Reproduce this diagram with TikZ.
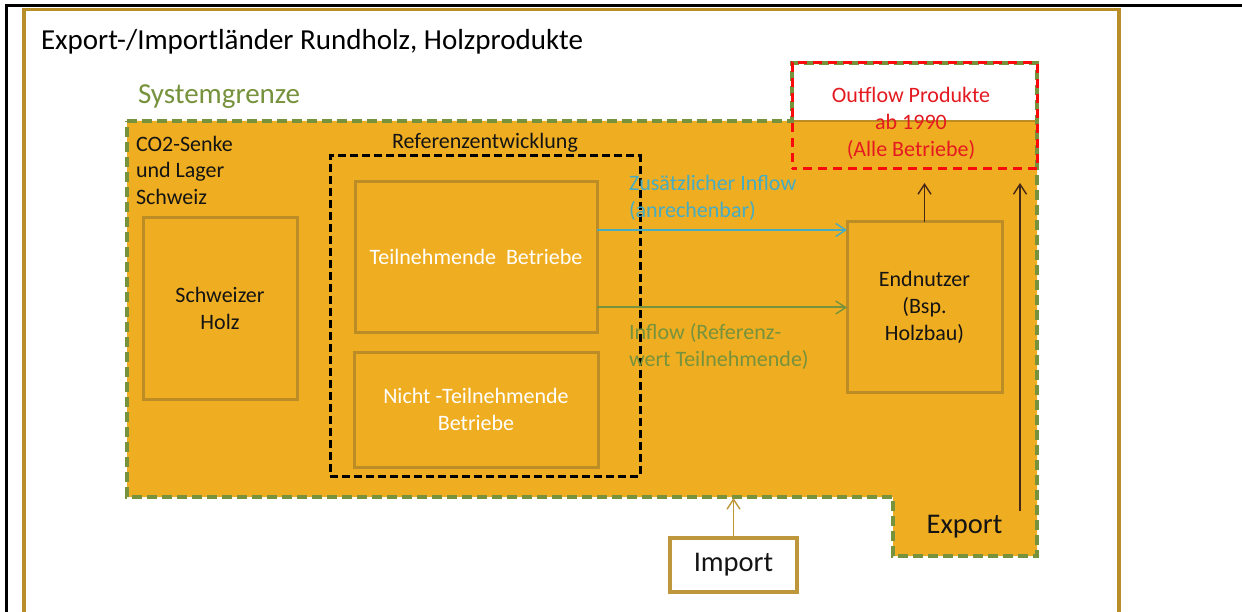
\documentclass[tikz,border=0pt]{standalone}
\usepackage{fontspec}
\setmainfont{Carlito}
\usetikzlibrary{arrows.meta,calc}
\definecolor{fillor}{RGB}{239,174,33}
\definecolor{boxgold}{RGB}{188,140,38}
\definecolor{framegold}{RGB}{184,142,40}
\definecolor{sysgreen}{RGB}{118,146,60}
\definecolor{tealc}{RGB}{70,172,196}
\definecolor{redtxt}{RGB}{228,26,32}
\definecolor{dashred}{RGB}{250,10,10}
\definecolor{importgold}{RGB}{190,150,60}
\definecolor{darkarrow}{RGB}{70,40,25}
\definecolor{txtdark}{RGB}{20,20,20}
\begin{document}
\begin{tikzpicture}[x=1pt,y=-1pt,
  every node/.style={inner sep=0pt,outer sep=0pt},
  sm/.style={font=\fontsize{22}{27}\selectfont},
  big/.style={font=\fontsize{29}{34}\selectfont},
  mid/.style={font=\fontsize{28.5}{32}\selectfont},
  gbox/.style={draw=boxgold,line width=3pt,align=center,sm},
  arr/.style={-{Straight Barb[length=10pt,width=13pt,line width=1.4pt]},line width=1.4pt},
  sysline/.style={sysgreen,line width=3.4pt,dash pattern=on 10pt off 5pt},
]
\useasboundingbox (0,0) rectangle (1242,612);
\fill[white] (0,0) rectangle (1242,612);
% outer lines
\draw[black,line width=3pt] (6,612) -- (6,6) -- (1242,6);
\draw[framegold,line width=3.2pt] (24,612) -- (24,9.5) -- (1119,9.5) -- (1119,612);
% title
\node[big,anchor=base west] (title) at (41,50) {Export-/Importländer Rundholz, Holzprodukte};
\node[big,text=sysgreen,anchor=base west] (sys) at (138,104) {Systemgrenze};
% orange region
\fill[fillor] (127,121) -- (1037,121) -- (1037,556) -- (893,556) -- (893,497) -- (127,497) -- cycle;
\draw[boxgold,line width=2.4pt] (792,121) -- (1037,121);
% boxes
\node[gbox,minimum width=154,minimum height=181,text=txtdark] (holz) at (220,308.5) {Schweizer\\Holz};
\node[gbox,minimum width=242,minimum height=150,text=white] (teil) at (476,257) {Teilnehmende\ \ Betriebe};
\node[gbox,minimum width=244,minimum height=115,text=white] (nicht) at (476,409.5) {Nicht -Teilnehmende\\Betriebe};
\node[gbox,minimum width=155,minimum height=170,text=txtdark] (end) at (924.5,307) {Endnutzer\\(Bsp.\\Holzbau)};
\node[draw=black,line width=3pt,dash pattern=on 8pt off 4pt,minimum width=310,minimum height=320] (ref) at (485,316) {};
\node[sm,anchor=base,text=txtdark] (reflab) at (485,149) {Referenzentwicklung};
% left labels
\node[sm,anchor=base west,text=txtdark] (co2a) at (136,152) {CO2-Senke};
\node[sm,anchor=base west,text=txtdark] (co2b) at (136,178) {und Lager};
\node[sm,anchor=base west,text=txtdark] (co2c) at (136,205) {Schweiz};
% system boundary
\draw[sysline] (127,121) -- (792,121) -- (792,63) -- (1037,63) -- (1037,556) -- (893,556) -- (893,497) -- (127,497) -- cycle;
% outflow box
\node[draw=dashred,line width=3pt,dash pattern=on 9pt off 6pt,dash phase=4pt,minimum width=245,minimum height=106] (outbox) at (914.5,116) {};
\node[sm,align=center,text=redtxt] (outtxt) at (911,123) {Outflow Produkte\\ab 1990\\(Alle Betriebe)};
% flow labels
\node[sm,anchor=base west,text=tealc] (zus1) at (629,191) {Zusätzlicher Inflow};
\node[sm,anchor=base west,text=tealc] (zus2) at (629,218) {(anrechenbar)};
\node[sm,anchor=base west,text=sysgreen] (inf1) at (629,339) {Inflow (Referenz-};
\node[sm,anchor=base west,text=sysgreen] (inf2) at (629,366) {wert Teilnehmende)};
% export / import
\node[mid,text=txtdark] (exp) at (964.5,527) {Export};
\node[mid,draw=importgold,line width=3.4pt,fill=white,minimum width=127,minimum height=54,text=txtdark] (imp) at (733.5,565) {Import};
% arrows
\coordinate (ty) at (0,230);
\coordinate (gy) at (0,307.5);
\coordinate (uy) at (0,183);
\coordinate (iy) at (0,498);
\coordinate (rb) at (1020,511);
\coordinate (rt) at (1020,183);
\draw[arr,tealc,line width=2pt] (teil.east |- ty) -- (end.west |- ty);
\draw[arr,sysgreen,line width=2pt] (teil.east |- gy) -- (end.west |- gy);
\draw[arr,darkarrow] (end.north) -- (end.north |- uy);
\draw[arr,darkarrow] (rb) -- (rt);
\draw[arr,importgold] (imp.north) -- (imp.north |- iy);
\end{tikzpicture}
\end{document}
